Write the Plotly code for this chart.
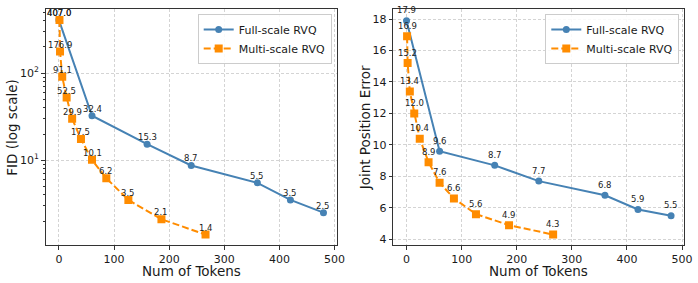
import plotly.graph_objects as go
import math

# ---- data ----
full_tokens = [0, 60, 160, 240, 360, 420, 480]
full_fid = [407.0, 32.4, 15.3, 8.7, 5.5, 3.5, 2.5]
full_jpe = [17.9, 9.6, 8.7, 7.7, 6.8, 5.9, 5.5]

multi_tokens = [1, 2, 6, 14, 24, 40, 60, 86, 126, 186, 266]
multi_fid = [407.0, 176.9, 91.1, 52.5, 29.9, 17.5, 10.1, 6.2, 3.5, 2.1, 1.4]
multi_jpe = [16.9, 15.2, 13.4, 12.0, 10.4, 8.9, 7.6, 6.6, 5.6, 4.9, 4.3]

x_ticks = [0, 100, 200, 300, 400, 500]
jpe_ticks = [4, 6, 8, 10, 12, 14, 16, 18]

BLUE = "#4682b4"
ORANGE = "#ff8c00"
FONT = "DejaVu Sans"
W, H = 698, 283

fig = go.Figure()

def add_series(xs, ys, name, color, dash, symbol, size, xa, ya, legend):
    fig.add_trace(go.Scatter(
        x=xs, y=ys, name=name, mode="lines+markers",
        line=dict(color=color, width=2, dash=dash),
        marker=dict(color=color, symbol=symbol, size=size),
        xaxis=xa, yaxis=ya, legend=legend))

add_series(full_tokens, full_fid, "Full-scale RVQ", BLUE, "solid", "circle", 7, "x", "y", "legend")
add_series(multi_tokens, multi_fid, "Multi-scale RVQ", ORANGE, "7px,3px", "square", 8, "x", "y", "legend")
add_series(full_tokens, full_jpe, "Full-scale RVQ", BLUE, "solid", "circle", 7, "x2", "y2", "legend2")
add_series(multi_tokens, multi_jpe, "Multi-scale RVQ", ORANGE, "7px,3px", "square", 8, "x2", "y2", "legend2")

ann = []
for xs, ys in [(full_tokens, full_fid), (multi_tokens, multi_fid)]:
    for xv, yv in zip(xs, ys):
        ann.append(dict(x=xv, y=math.log10(yv), xref="x", yref="y", text=f"{yv:.1f}",
                        showarrow=False, yshift=7, font=dict(size=8.5, color="#222", family=FONT)))
for xs, ys in [(full_tokens, full_jpe), (multi_tokens, multi_jpe)]:
    for xv, yv in zip(xs, ys):
        ann.append(dict(x=xv, y=yv, xref="x2", yref="y2", text=f"{yv:.1f}",
                        showarrow=False, yshift=10.5, font=dict(size=8.5, color="#222", family=FONT)))

# axis titles (placed in paper coordinates)
title_font = dict(size=13.5, color="#1a1a1a", family=FONT)
tcommon = dict(xref="paper", yref="paper", showarrow=False, font=title_font,
               xanchor="center", yanchor="middle")
ann += [
    dict(x=191.2 / W, y=1 - 271 / H, text="Num of Tokens", **tcommon),
    dict(x=538.8 / W, y=1 - 271 / H, text="Num of Tokens", **tcommon),
    dict(x=12.5 / W, y=1 - 127.3 / H, text="FID (log scale)", textangle=-90, **tcommon),
    dict(x=365 / W, y=1 - 127.3 / H, text="Joint Position Error", textangle=-90, **tcommon),
]

axis_common = dict(showline=True, linecolor="#333", linewidth=1, mirror=True,
                   ticks="outside", ticklen=3.5, tickcolor="#333", tickwidth=1,
                   showgrid=True, gridcolor="#d4d4d4", griddash="3px,2px", gridwidth=1,
                   zeroline=False, automargin=False,
                   tickfont=dict(size=11, color="#1a1a1a", family=FONT))

ydom = [1 - 245.3 / H, 1 - 9.3 / H]
minor_vals = [v * d for d in (1, 10, 100) for v in range(2, 10)]

legend_common = dict(yanchor="top", xanchor="right", y=1 - 14 / H,
                     bordercolor="#cccccc", borderwidth=1, bgcolor="rgba(255,255,255,0.85)",
                     font=dict(size=11, family=FONT, color="#1a1a1a"), tracegroupgap=0, itemwidth=30)

fig.update_layout(
    width=W, height=H, margin=dict(l=0, r=0, t=0, b=0, autoexpand=False),
    paper_bgcolor="white", plot_bgcolor="white",
    font=dict(family=FONT, color="#222"),
    xaxis=dict(domain=[45.7 / W, 336.7 / W], range=[-24, 504], tickvals=x_ticks,
               anchor="y", **axis_common),
    yaxis=dict(domain=ydom, type="log", range=[0.023, 2.733], tickvals=[10, 100],
               ticktext=["10<sup>1</sup>", "10<sup>2</sup>"],
               minor=dict(ticks="outside", ticklen=2, tickcolor="#333", tickvals=minor_vals, showgrid=False),
               anchor="x", **axis_common),
    xaxis2=dict(domain=[393.3 / W, 684.3 / W], range=[-24, 504], tickvals=x_ticks,
                anchor="y2", **axis_common),
    yaxis2=dict(domain=ydom, range=[3.62, 18.62], tickvals=jpe_ticks,
                anchor="x2", **axis_common),
    legend=dict(x=331.7 / W, **legend_common),
    legend2=dict(x=679.3 / W, **legend_common),
    annotations=ann,
)

fig.write_html("out.html", config={"displayModeBar": False},
               post_script="document.body.style.margin='0';document.body.style.overflow='hidden';")
